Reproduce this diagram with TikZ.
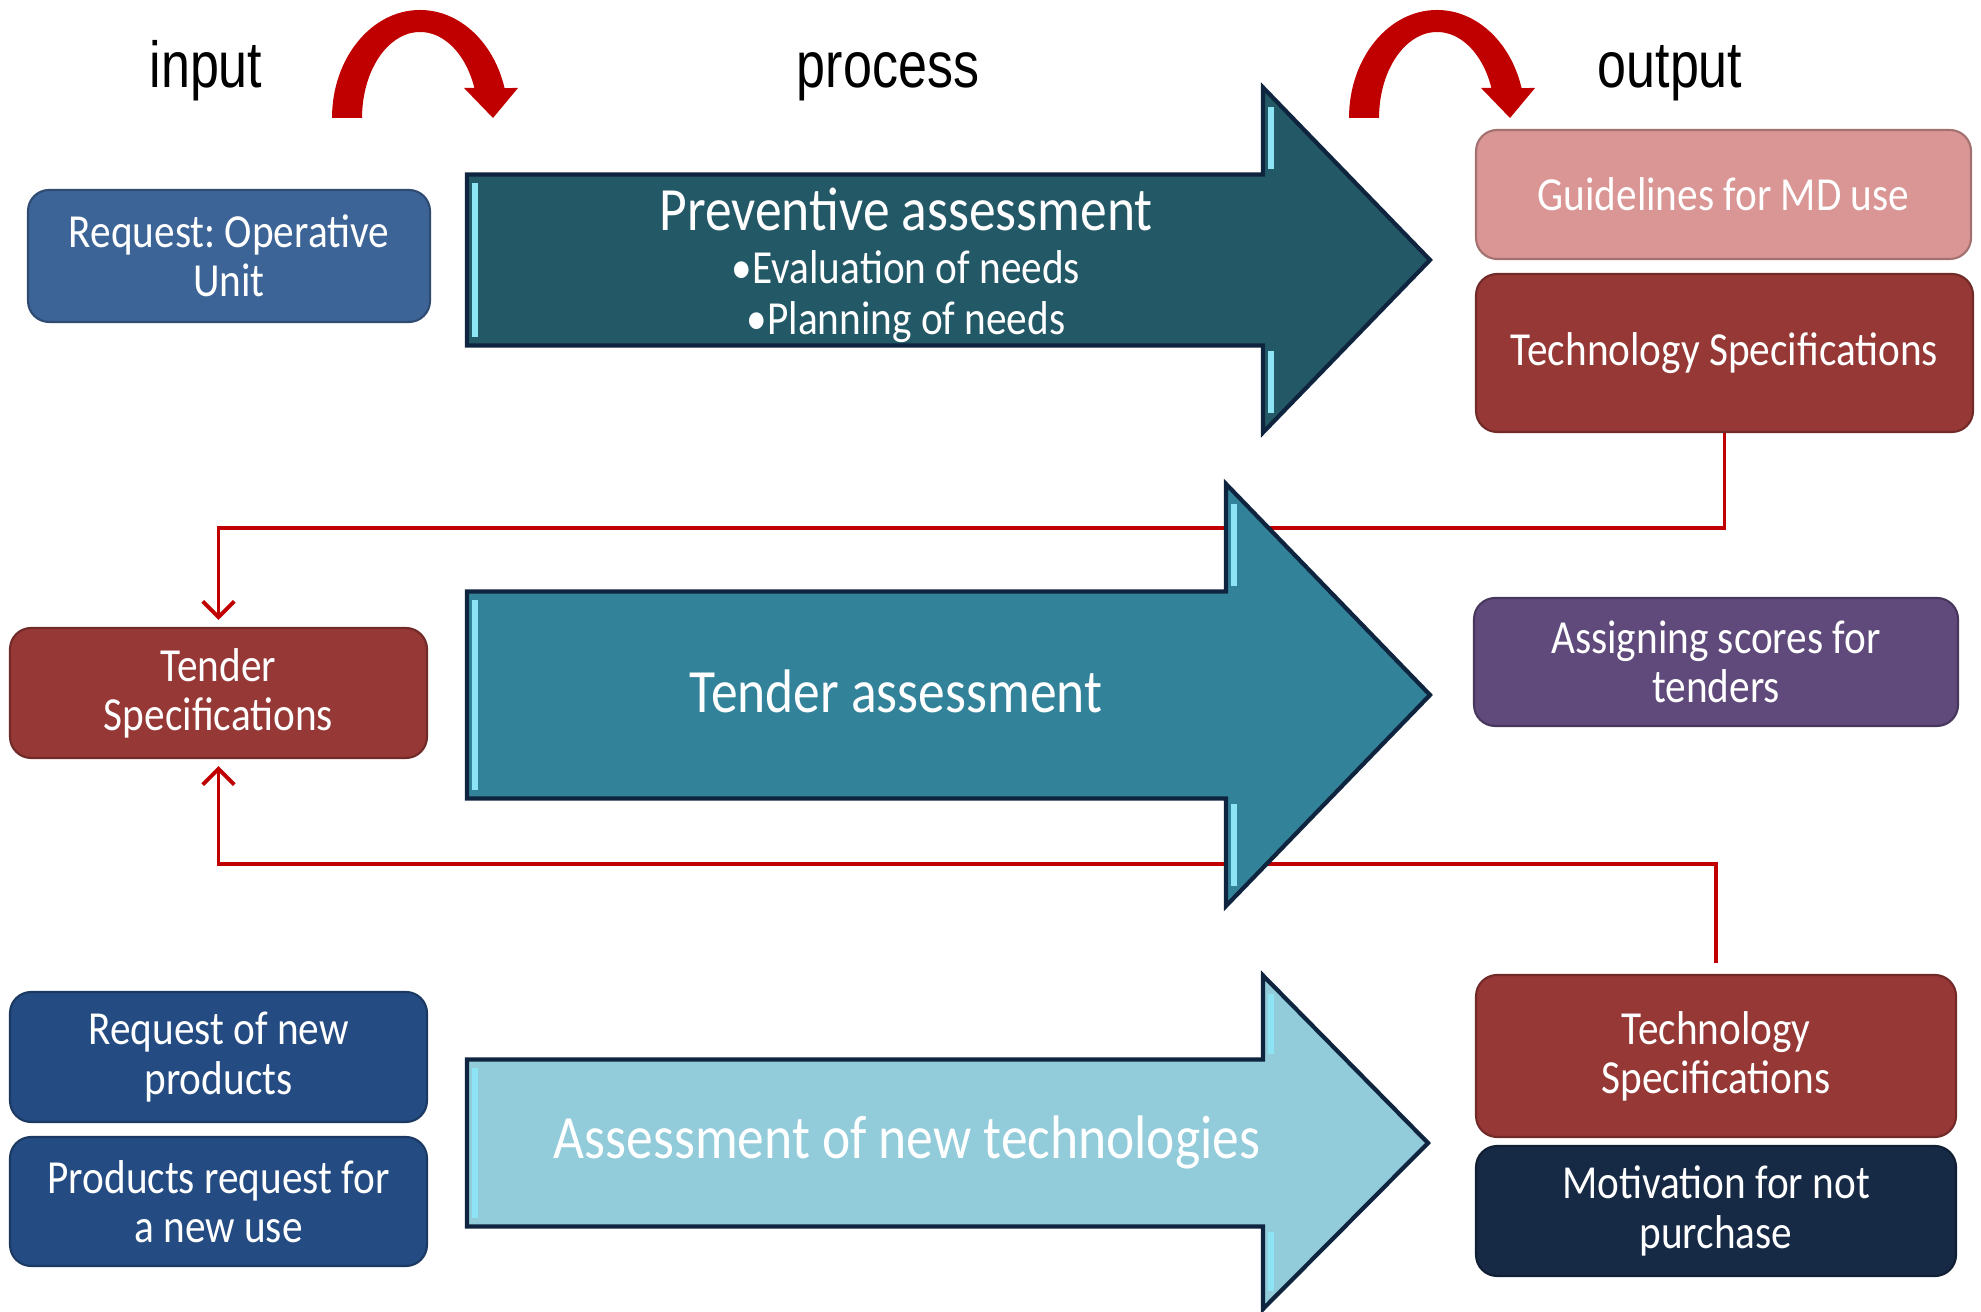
\documentclass[tikz,border=0pt]{standalone}
\usepackage{fontspec}
\setmainfont{Carlito}[FakeStretch=0.87]
\newfontfamily\labelfont{Liberation Sans}[FakeStretch=0.8]
\usetikzlibrary{arrows.meta}
\frenchspacing
\definecolor{reqblue}{RGB}{61,100,150}
\definecolor{navyblue}{RGB}{36,76,131}
\definecolor{guidepink}{RGB}{217,150,148}
\definecolor{specred}{RGB}{150,56,54}
\definecolor{scorepurple}{RGB}{96,74,123}
\definecolor{motivnavy}{RGB}{22,41,69}
\definecolor{prevteal}{RGB}{35,89,103}
\definecolor{tenderteal}{RGB}{50,131,153}
\definecolor{newtechblue}{RGB}{146,203,218}
\definecolor{arrline}{RGB}{15,36,62}
\definecolor{bevelcyan}{RGB}{140,228,245}
\definecolor{linkred}{RGB}{192,0,0}
\begin{document}
\begin{tikzpicture}[>={Straight Barb[length=4.5pt,width=9pt]},
		box/.style={draw=#1!75!black,fill=#1,line width=0.6pt,rounded corners=6pt,text=white,align=center,inner sep=2pt,font=\fontsize{13.5}{14}\selectfont},
		bigarrow/.style={draw=arrline,line width=1.2pt,line join=miter,fill=#1},
		bevel/.style={draw=bevelcyan,line width=1.6pt},
		link/.style={draw=linkred,line width=1.1pt},
		bendarrow/.style={fill=linkred},
		toplabel/.style={font=\labelfont\fontsize{18.5}{20}\selectfont,anchor=base},
		arrtext/.style={text=white,anchor=base,font=\fontsize{#1}{#1}\selectfont}]
	\useasboundingbox (0,0) rectangle (19.81,13.11);
	% column labels
	\node[toplabel] (inlab) at (2.06,12.23) {input};
	\node[toplabel] (proclab) at (8.88,12.23) {process};
	\node[toplabel] (outlab) at (16.70,12.23) {output};
	% the two curved arrows
	\foreach \dx in {0,10.17}
		\fill[bendarrow,xshift=\dx cm] (3.32,11.93) arc[start angle=180,end angle=16.1,x radius=.88,y radius=1.08]
			-- (5.18,12.23) -- (4.93,11.93) -- (4.64,12.23) -- (4.744,12.23)
			arc[start angle=20.4,end angle=180,x radius=.58,y radius=.86] -- cycle;
	% input boxes
	\node[box=reqblue,minimum width=4.02cm,minimum height=1.32cm] (req) at (2.29,10.55) {Request: Operative\\Unit};
	\node[box=specred,minimum width=4.17cm,minimum height=1.30cm] (tender) at (2.185,6.18) {Tender\\Specifications};
	\node[box=navyblue,minimum width=4.17cm,minimum height=1.30cm] (newprod) at (2.185,2.54) {Request of new\\products};
	\node[box=navyblue,minimum width=4.17cm,minimum height=1.29cm] (newuse) at (2.185,1.095) {Products request for\\a new use};
	% output boxes
	\node[box=guidepink,minimum width=4.95cm,minimum height=1.29cm] (guide) at (17.235,11.165) {Guidelines for MD use};
	\node[box=specred,minimum width=4.97cm,minimum height=1.58cm] (techA) at (17.245,9.58) {Technology Specifications};
	\node[box=scorepurple,minimum width=4.84cm,minimum height=1.28cm] (scores) at (17.16,6.49) {Assigning scores for\\tenders};
	\node[box=specred,minimum width=4.80cm,minimum height=1.62cm] (techB) at (17.16,2.55) {Technology\\Specifications};
	\node[box=motivnavy,minimum width=4.80cm,minimum height=1.30cm] (motiv) at (17.16,1.00) {Motivation for not\\purchase};
	% feedback lines
	\coordinate (turnA) at (17.245,7.83);
	\coordinate (turnB) at (17.16,4.47);
	\draw[link,->,shorten >=2pt] (techA.south) -- (turnA) -| (tender.north);
	\draw[link,->,shorten <=3pt,shorten >=2pt] (techB.north) -- (turnB) -| (tender.south);
	% process arrows
	\draw[bigarrow=prevteal] (4.67,9.655) -- (12.63,9.655) -- (12.63,8.785) -- (14.30,10.51) -- (12.63,12.235) -- (12.63,11.365) -- (4.67,11.365) -- cycle;
	\draw[bevel] (4.75,9.74) -- (4.75,11.28) (12.71,8.98) -- (12.71,9.60) (12.71,11.42) -- (12.71,12.04);
	\draw[bigarrow=tenderteal] (4.67,5.125) -- (12.26,5.125) -- (12.26,4.05) -- (14.30,6.16) -- (12.26,8.27) -- (12.26,7.195) -- (4.67,7.195) -- cycle;
	\draw[bevel] (4.75,5.21) -- (4.75,7.11) (12.34,4.25) -- (12.34,5.07) (12.34,7.25) -- (12.34,8.07);
	\draw[bigarrow=newtechblue] (4.67,0.845) -- (12.63,0.845) -- (12.63,0.02) -- (14.28,1.68) -- (12.63,3.355) -- (12.63,2.515) -- (4.67,2.515) -- cycle;
	\draw[bevel] (4.75,0.93) -- (4.75,2.43) (12.71,0.20) -- (12.71,0.79) (12.71,2.57) -- (12.71,3.17);
	% process texts
	\node[arrtext=17.5] (prevtitle) at (9.06,10.80) {Preventive assessment};
	\node[arrtext=13.5] (preva) at (9.06,10.27) {•Evaluation of needs};
	\node[arrtext=13.5] (prevb) at (9.06,9.76) {•Planning of needs};
	\node[arrtext=17.5] (tendertitle) at (8.96,5.98) {Tender assessment};
	\node[arrtext=17.5] (newtechtitle) at (9.07,1.52) {Assessment of new technologies};
\end{tikzpicture}
\end{document}
